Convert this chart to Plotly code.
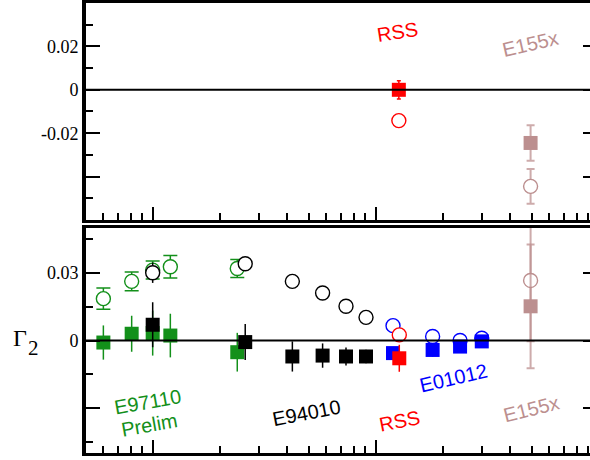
import plotly.graph_objects as go

# ---------------- data ----------------
# Top panel
rss_top_x = [1.27]
rss_top_sq_y = [0.0]
rss_top_sq_err = [0.0042]
rss_top_ci_y = [-0.0142]
rss_top_ci_err = [0.0015]

e155_top_x = [4.95]
e155_top_sq_y = [-0.0245]
e155_top_sq_err = [0.0082]
e155_top_ci_y = [-0.0445]
e155_top_ci_err = [0.008]

# Bottom panel
e97_x = [0.0601, 0.0805, 0.1, 0.120, 0.2395]
e97_ci_y = [0.0186, 0.0263, 0.0313, 0.0328, 0.0320]
e97_ci_err = [0.0047, 0.0042, 0.0040, 0.0050, 0.0040]
e97_sq_y = [-0.0009, 0.0030, 0.0033, 0.0022, -0.0052]
e97_sq_err = [0.0076, 0.0080, 0.0100, 0.0097, 0.0086]

e94_x = [0.1, 0.26, 0.423, 0.578, 0.736, 0.905]
e94_ci_y = [0.0301, 0.0341, 0.0263, 0.0211, 0.0152, 0.0103]
e94_ci_err = [0.0045, 0.0030, 0.0020, 0.0020, 0.0020, 0.0020]
e94_sq_y = [0.0070, -0.0007, -0.0071, -0.0067, -0.0071, -0.0071]
e94_sq_err = [0.0100, 0.0080, 0.0067, 0.0054, 0.0040, 0.0030]

e01_x = [1.196, 1.80, 2.39, 2.99]
e01_ci_y = [0.0066, 0.0018, 0.0000, 0.0010]
e01_ci_err = [0.0015, 0.0015, 0.0010, 0.0010]
e01_sq_y = [-0.0056, -0.0042, -0.0027, -0.0004]
e01_sq_err = [0.0020, 0.0030, 0.0015, 0.0010]

rss_x = [1.276]
rss_ci_y = [0.0025]
rss_ci_err = [0.0020]
rss_sq_y = [-0.0079]
rss_sq_err = [0.0060]

e155_x = [4.95]
e155_ci_y = [0.0267]
e155_ci_err = [0.0270]
e155_sq_y = [0.0152]
e155_sq_err = [0.0275]

# ---------------- style ----------------
GREEN = "#13901a"
BLACK = "#000000"
BLUE = "#0000ff"
RED = "#ff0000"
ROSY = "#bc8f8f"
ROSY_ERR = "rgba(188,143,143,0.75)"

SQ = 14
CI = 14


def sq(x, y, err, color, xa, ya, cap=0, ecolor=None, th=1.5):
    return go.Scatter(
        x=x, y=y, mode="markers", xaxis=xa, yaxis=ya, showlegend=False,
        marker=dict(symbol="square", size=SQ, color=color, line=dict(width=0)),
        error_y=dict(type="data", array=err, visible=True, width=cap,
                     thickness=th, color=ecolor or color),
    )


def ci(x, y, err, color, xa, ya, cap=0, ecolor=None, th=1.5):
    return go.Scatter(
        x=x, y=y, mode="markers", xaxis=xa, yaxis=ya, showlegend=False,
        marker=dict(symbol="circle", size=CI, color="white",
                    line=dict(width=1.4, color=color)),
        error_y=dict(type="data", array=err, visible=True, width=cap,
                     thickness=th, color=ecolor or color),
    )


fig = go.Figure()

# top panel
fig.add_trace(ci(rss_top_x, rss_top_ci_y, rss_top_ci_err, RED, "x", "y"))
fig.add_trace(sq(rss_top_x, rss_top_sq_y, rss_top_sq_err, RED, "x", "y", cap=2))
fig.add_trace(ci(e155_top_x, e155_top_ci_y, e155_top_ci_err, ROSY, "x", "y", cap=4, ecolor=ROSY_ERR, th=2))
fig.add_trace(sq(e155_top_x, e155_top_sq_y, e155_top_sq_err, ROSY, "x", "y", cap=4, ecolor=ROSY_ERR, th=2))

# bottom panel
fig.add_trace(ci(e97_x, e97_ci_y, e97_ci_err, GREEN, "x2", "y2", cap=7))
fig.add_trace(sq(e97_x, e97_sq_y, e97_sq_err, GREEN, "x2", "y2"))
fig.add_trace(ci(e94_x, e94_ci_y, e94_ci_err, BLACK, "x2", "y2"))
fig.add_trace(sq(e94_x, e94_sq_y, e94_sq_err, BLACK, "x2", "y2"))
fig.add_trace(ci(e01_x, e01_ci_y, e01_ci_err, BLUE, "x2", "y2"))
fig.add_trace(sq(e01_x, e01_sq_y, e01_sq_err, BLUE, "x2", "y2"))
fig.add_trace(ci(rss_x, rss_ci_y, rss_ci_err, RED, "x2", "y2"))
fig.add_trace(sq(rss_x, rss_sq_y, rss_sq_err, RED, "x2", "y2"))
fig.add_trace(ci(e155_x, e155_ci_y, e155_ci_err, ROSY, "x2", "y2", cap=4, ecolor=ROSY_ERR, th=2))
fig.add_trace(sq(e155_x, e155_sq_y, e155_sq_err, ROSY, "x2", "y2", cap=4, ecolor=ROSY_ERR, th=2))

# empty traces to register right-side tick axes
fig.add_trace(go.Scatter(x=[], y=[], xaxis="x", yaxis="y3", showlegend=False))
fig.add_trace(go.Scatter(x=[], y=[], xaxis="x2", yaxis="y4", showlegend=False))

XR = [-1.299, 0.961]
x_major = [0.1, 1]
x_minor = [0.06, 0.07, 0.08, 0.09, 0.2, 0.3, 0.4, 0.5, 0.6, 0.7, 0.8, 0.9,
           2, 3, 4, 5, 6, 7, 8, 9]

xcommon = dict(
    type="log", range=XR, showline=True, linewidth=3, linecolor="black",
    mirror=True, showgrid=False, zeroline=False, ticks="inside",
    tickvals=x_major, ticklen=13, tickwidth=1.5, tickcolor="black",
    showticklabels=False,
    minor=dict(tickvals=x_minor, ticks="inside", ticklen=7, tickwidth=1.5,
               tickcolor="black", showgrid=False),
)

TICKFONT = dict(family="Liberation Serif, Times New Roman, serif", size=18, color="black")

fig.update_layout(
    width=590, height=460,
    margin=dict(l=86, r=0, t=3, b=7),
    paper_bgcolor="white", plot_bgcolor="white",
    showlegend=False,
    xaxis=dict(domain=[0, 1], anchor="y", **xcommon),
    xaxis2=dict(domain=[0, 1], anchor="y2", **xcommon),
    yaxis=dict(
        domain=[0.5178, 1], anchor="x", range=[-0.06, 0.04],
        showline=True, linewidth=4, linecolor="black", mirror=False,
        showgrid=False, zeroline=False, ticks="inside",
        tickvals=[0.02, 0, -0.02, -0.04], ticktext=["0.02", "0", "-0.02", ""],
        ticklen=14, tickwidth=1.5, tickcolor="black", tickfont=TICKFONT,
        ticklabelstandoff=0,
        minor=dict(tickvals=[0.03, 0.01, -0.01, -0.03, -0.05], ticks="inside",
                   ticklen=7, tickwidth=1.5, tickcolor="black", showgrid=False),
    ),
    yaxis2=dict(
        domain=[0, 0.5], anchor="x2", range=[-0.05, 0.05],
        showline=True, linewidth=4, linecolor="black", mirror=False,
        showgrid=False, zeroline=False, ticks="inside",
        tickvals=[0.03, 0, -0.03], ticktext=["0.03", "0", ""],
        ticklen=14, tickwidth=1.5, tickcolor="black", tickfont=TICKFONT,
        ticklabelstandoff=0,
        minor=dict(tickvals=[0.045, 0.015, -0.015, -0.045], ticks="inside",
                   ticklen=7, tickwidth=1.5, tickcolor="black", showgrid=False),
    ),
    yaxis3=dict(
        overlaying="y", anchor="x", side="right", range=[-0.06, 0.04],
        showline=False, showgrid=False, zeroline=False, ticks="inside",
        tickvals=[0.02, 0, -0.02, -0.04], ticklen=7, tickwidth=1.5,
        tickcolor="black", showticklabels=False,
    ),
    yaxis4=dict(
        overlaying="y2", anchor="x2", side="right", range=[-0.05, 0.05],
        showline=False, showgrid=False, zeroline=False, ticks="inside",
        tickvals=[0.03, 0, -0.03], ticklen=7, tickwidth=1.5,
        tickcolor="black", showticklabels=False,
    ),
)

# zero lines drawn above the markers
for yr in ["y", "y2"]:
    xr = "x domain" if yr == "y" else "x2 domain"
    fig.add_shape(type="line", xref=xr, yref=yr, x0=0, x1=1, y0=0, y1=0,
                  line=dict(color="black", width=2), layer="above")

LABFONT = "Liberation Sans, Arial, Helvetica, sans-serif"


def lab(text, px, py, color, angle, size=20):
    fig.add_annotation(
        text=text, xref="paper", yref="paper",
        x=(px - 86) / 504, y=(453 - py) / 450,
        xanchor="center", yanchor="middle", showarrow=False,
        textangle=angle, font=dict(family=LABFONT, size=size, color=color),
    )


lab("RSS", 397, 32, RED, -9)
lab("E155x", 530, 44, ROSY, -13)
lab("E97110", 147, 402, GREEN, -10)
lab("Prelim", 149, 425, GREEN, -10)
lab("E94010", 306, 413, BLACK, -11)
lab("RSS", 399, 421, RED, -11)
lab("E01012", 453, 378, BLUE, -13)
lab("E155x", 531, 409, ROSY, -14)

SERIF = "Liberation Serif, Times New Roman, serif"
fig.add_annotation(text="Γ", xref="paper", yref="paper",
                   x=(20 - 86) / 504, y=(453 - 338) / 450,
                   xanchor="center", yanchor="middle", showarrow=False,
                   font=dict(family=SERIF, size=24, color="black"))
fig.add_annotation(text="2", xref="paper", yref="paper",
                   x=(33 - 86) / 504, y=(453 - 348) / 450,
                   xanchor="center", yanchor="middle", showarrow=False,
                   font=dict(family=SERIF, size=21, color="black"))

fig.write_html("out.html")
